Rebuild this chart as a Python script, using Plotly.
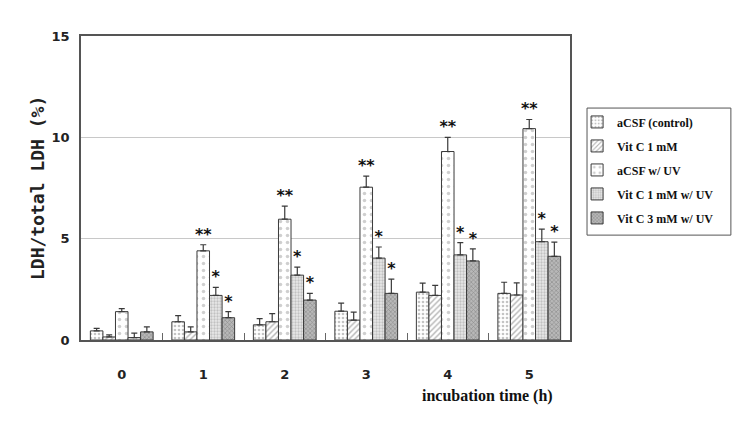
import plotly.graph_objects as go

hours = [0, 1, 2, 3, 4, 5]
tick_labels = ["0", "1", "2", "3", "4", "5"]

series_names = ["aCSF (control)", "Vit C 1 mM", "aCSF w/ UV", "Vit C 1 mM w/ UV", "Vit C 3 mM w/ UV"]

acsf_control = [0.45, 0.9, 0.75, 1.42, 2.36, 2.3]
acsf_control_err = [0.12, 0.3, 0.3, 0.4, 0.45, 0.55]
vitc1 = [0.15, 0.4, 0.9, 0.98, 2.2, 2.22]
vitc1_err = [0.1, 0.25, 0.4, 0.4, 0.5, 0.6]
acsf_uv = [1.4, 4.4, 5.96, 7.54, 9.3, 10.43]
acsf_uv_err = [0.15, 0.3, 0.65, 0.55, 0.7, 0.45]
vitc1_uv = [0.12, 2.2, 3.2, 4.04, 4.2, 4.85]
vitc1_uv_err = [0.22, 0.4, 0.4, 0.55, 0.6, 0.62]
vitc3_uv = [0.4, 1.1, 1.97, 2.3, 3.9, 4.13]
vitc3_uv_err = [0.25, 0.3, 0.33, 0.7, 0.6, 0.7]

significance = [
    ["", "", "", "", "", ""],
    ["", "", "", "", "", ""],
    ["", "**", "**", "**", "**", "**"],
    ["", "*", "*", "*", "*", "*"],
    ["", "*", "*", "*", "*", "*"],
]

values = [acsf_control, vitc1, acsf_uv, vitc1_uv, vitc3_uv]
errors = [acsf_control_err, vitc1_err, acsf_uv_err, vitc1_uv_err, vitc3_uv_err]

patterns = [
    dict(shape=".", fgcolor="#8a8a8a", bgcolor="white", size=4, solidity=0.35),
    dict(shape="/", fgcolor="#6a6a6a", bgcolor="white", size=4, solidity=0.35),
    dict(shape=".", fgcolor="#a0a0a0", bgcolor="white", size=7, solidity=0.2),
    dict(shape=".", fgcolor="#9a9a9a", bgcolor="#e8e8e8", size=3, solidity=0.45),
    dict(shape="x", fgcolor="#5a5a5a", bgcolor="#b8b8b8", size=3, solidity=0.35),
]

bargap = 0.23
bar_w = (1 - bargap) / 5

fig = go.Figure()
for k in range(5):
    fig.add_trace(go.Bar(
        x=hours, y=values[k], name=series_names[k],
        marker=dict(color="white", pattern=patterns[k], line=dict(color="#3a3a3a", width=1)),
        error_y=dict(type="data", symmetric=False, array=errors[k],
                     arrayminus=[0] * len(hours), color="#3a3a3a", thickness=1.2, width=3),
        legendgroup=f"g{k}",
    ))

for k in range(5):
    xs, ys, ts = [], [], []
    for i, h in enumerate(hours):
        if significance[k][i]:
            xs.append(h + (k - 2) * bar_w)
            ys.append(values[k][i] + errors[k][i] + 0.05)
            ts.append(significance[k][i])
    fig.add_trace(go.Scatter(
        x=xs, y=ys, text=ts, mode="text", textposition="top center",
        textfont=dict(family="DejaVu Sans", size=16, color="#111", weight="bold"),
        showlegend=False, hoverinfo="skip", cliponaxis=False,
    ))

fig.update_layout(
    width=739, height=421,
    margin=dict(l=81, r=169, t=36, b=81),
    paper_bgcolor="white", plot_bgcolor="white",
    barmode="group", bargap=bargap, bargroupgap=0,
    showlegend=True,
    legend=dict(x=1.0145, y=0.765, xanchor="left", yanchor="top",
                borderwidth=0, bgcolor="rgba(0,0,0,0)",
                font=dict(family="Liberation Serif", size=12, color="#111", weight="bold"),
                tracegroupgap=5, itemwidth=30),
    xaxis=dict(range=[-0.5, 5.5], tickvals=hours, ticktext=tick_labels,
               showline=True, linecolor="#555", linewidth=1.5, mirror=True,
               ticks="", ticklabelstandoff=22, showgrid=False, zeroline=False,
               tickfont=dict(family="DejaVu Sans", size=13, color="#222", weight="bold"),
               minor=dict(tickvals=[0.5, 1.5, 2.5, 3.5, 4.5], ticks="inside", ticklen=7,
                          tickcolor="#666", showgrid=False)),
    yaxis=dict(range=[0, 15], tickvals=[0, 5, 10, 15],
               showline=True, linecolor="#555", linewidth=1.5, mirror=True,
               showgrid=True, gridcolor="#c8c8c8", gridwidth=1, zeroline=False,
               ticks="", ticklabelstandoff=7,
               tickfont=dict(family="DejaVu Sans", size=13, color="#222", weight="bold")),
    shapes=[
        dict(type="rect", xref="paper", yref="paper", x0=1.0348, x1=1.329, y0=0.345, y1=0.763,
             line=dict(color="#555", width=1), fillcolor="rgba(0,0,0,0)", layer="below"),
    ],
    annotations=[
        dict(text="LDH/total LDH (%)", xref="paper", yref="paper", x=-0.09, y=0.5,
             textangle=-90, showarrow=False, xanchor="center", yanchor="middle",
             font=dict(family="DejaVu Sans Mono", size=18, color="#222", weight="bold")),
        dict(text="incubation time (h)", xref="paper", yref="paper", x=0.832, y=-0.184,
             showarrow=False, xanchor="center", yanchor="middle",
             font=dict(family="Liberation Serif", size=16, color="#111", weight="bold")),
    ],
)

fig.write_html("out.html", post_script="document.body.style.margin='0';",
               config={"displayModeBar": False})
